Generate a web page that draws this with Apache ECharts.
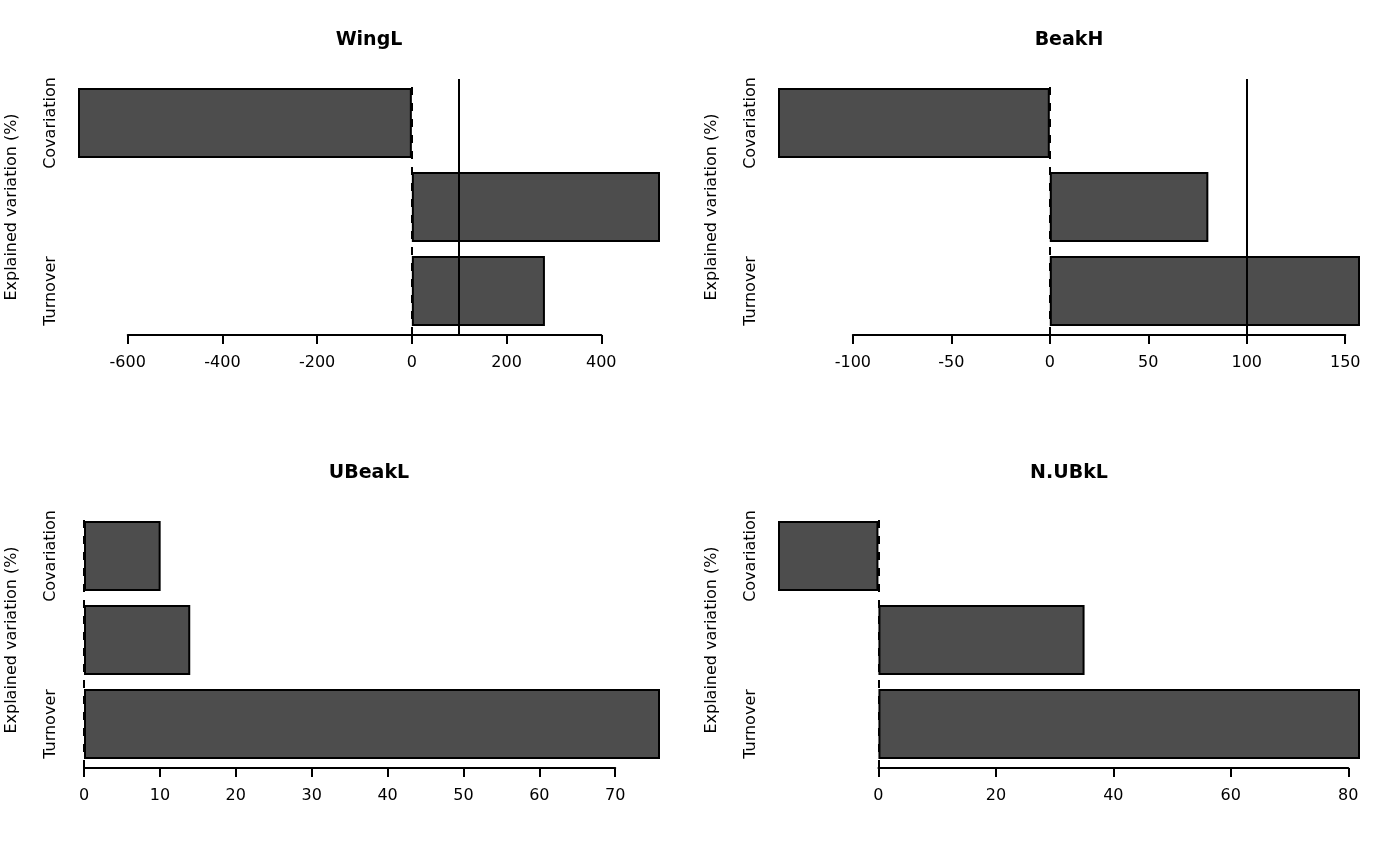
<!DOCTYPE html>
<html><head><meta charset="utf-8">
<script src="https://cdn.jsdelivr.net/npm/echarts@6/dist/echarts.min.js"></script>
<style>html,body{margin:0;padding:0;background:#fff}#c{width:1400px;height:866px}</style>
</head><body><div id="c"></div>
<script>
// ---- data ----
const categories = ['Turnover', 'Intraspec.', 'Covariation'];
const traits = ['WingL', 'BeakH', 'UBeakL', 'N.UBkL'];
const wingL = [281, 524, -705];
const beakH = [157.5, 80.5, -138];
const uBeakL = [75.9, 14.0, 10.1];
const nUBkL = [82.0, 35.1, -17.1];
const ticksWingL = [-600, -400, -200, 0, 200, 400];
const ticksBeakH = [-100, -50, 0, 50, 100, 150];
const ticksUBeakL = [0, 10, 20, 30, 40, 50, 60, 70];
const ticksNUBkL = [0, 20, 40, 60, 80];
const refLine = 100;
const zeroLine = 0;

// ---- layout ----
const FONT = 'DejaVu Sans';
const panels = [
  {title: traits[0], values: wingL,  ticks: ticksWingL,  left: 78,  right: 660,  top: 79,  labelEdge: 59},
  {title: traits[1], values: beakH,  ticks: ticksBeakH,  left: 778, right: 1360, top: 79,  labelEdge: 759},
  {title: traits[2], values: uBeakL, ticks: ticksUBeakL, left: 84,  right: 660,  top: 512, labelEdge: 59},
  {title: traits[3], values: nUBkL,  ticks: ticksNUBkL,  left: 778, right: 1360, top: 512, labelEdge: 759}
];

const option = {
  animation: false,
  backgroundColor: '#fff',
  textStyle: {fontFamily: FONT},
  title: [], grid: [], xAxis: [], yAxis: [], series: []
};

panels.forEach((p, i) => {
  const dMin = Math.min(0, ...p.values);
  const dMax = Math.max(...p.values);
  const pxPerUnit = (p.right - p.left) / (dMax - dMin);
  const tMin = p.ticks[0], tMax = p.ticks[p.ticks.length - 1];
  const axLeft = p.left + (tMin - dMin) * pxPerUnit;
  const axRight = p.left + (tMax - dMin) * pxPerUnit;
  const step = p.ticks[1] - p.ticks[0];

  option.title.push({
    text: p.title, left: (p.left + p.right) / 2 - (p.left === 84 ? 3 : 0), top: p.top - 48.5, textAlign: 'center', padding: 0,
    textStyle: {fontSize: 19, fontWeight: 'bold', color: '#000', fontFamily: FONT}
  });
  // bars grid
  option.grid.push({left: p.left, top: p.top + 2, width: p.right - p.left, height: 252,
    containLabel: false, outerBoundsMode: 'none'});
  // axis grid
  option.grid.push({left: axLeft, top: p.top, width: axRight - axLeft, height: 256,
    containLabel: false, outerBoundsMode: 'none'});
  const gb = i * 2, ga = i * 2 + 1;
  option.xAxis.push({gridIndex: gb, type: 'value', min: dMin, max: dMax, show: false});
  option.xAxis.push({gridIndex: ga, type: 'value', min: tMin, max: tMax, interval: step,
    axisLine: {show: true, onZero: false, lineStyle: {color: '#000', width: 2}},
    axisTick: {show: true, length: 9, lineStyle: {color: '#000', width: 2}},
    axisLabel: {show: true, color: '#000', fontSize: 16, fontFamily: FONT, margin: 20,
      showMinLabel: true, showMaxLabel: true, customValues: p.ticks},
    splitLine: {show: false}});
  option.yAxis.push({gridIndex: gb, type: 'category', data: categories,
    axisLine: {show: false}, axisTick: {show: false}, splitLine: {show: false},
    axisLabel: {rotate: 90, color: '#000', fontSize: 16, fontFamily: FONT,
      margin: p.left - p.labelEdge, interval: (idx) => idx !== 1},
    name: 'Explained variation (%)', nameLocation: 'middle', nameRotate: 90,
    nameGap: p.left - (p.labelEdge - 39),
    nameTextStyle: {color: '#000', fontSize: 16, fontFamily: FONT}});
  option.yAxis.push({gridIndex: ga, type: 'value', min: 0, max: 1, show: false});

  option.series.push({
    type: 'bar', xAxisIndex: gb, yAxisIndex: gb, data: p.values, barWidth: 70, z: 2,
    itemStyle: {color: '#4d4d4d', borderColor: '#000', borderWidth: 2},
    silent: true
  });
  const marks = [{xAxis: zeroLine, lineStyle: {color: '#000', width: 2, type: [8, 8]}}];
  if (refLine <= dMax) marks.push({xAxis: refLine, lineStyle: {color: '#000', width: 2, type: 'solid'}});
  option.series.push({
    type: 'line', xAxisIndex: ga, yAxisIndex: ga, data: [], z: 5, silent: true,
    markLine: {silent: true, symbol: ['none', 'none'], label: {show: false}, animation: false,
      data: marks}
  });
});

const chart = echarts.init(document.getElementById('c'), null, {renderer: 'canvas'});
chart.setOption(option);
</script>
</body></html>
